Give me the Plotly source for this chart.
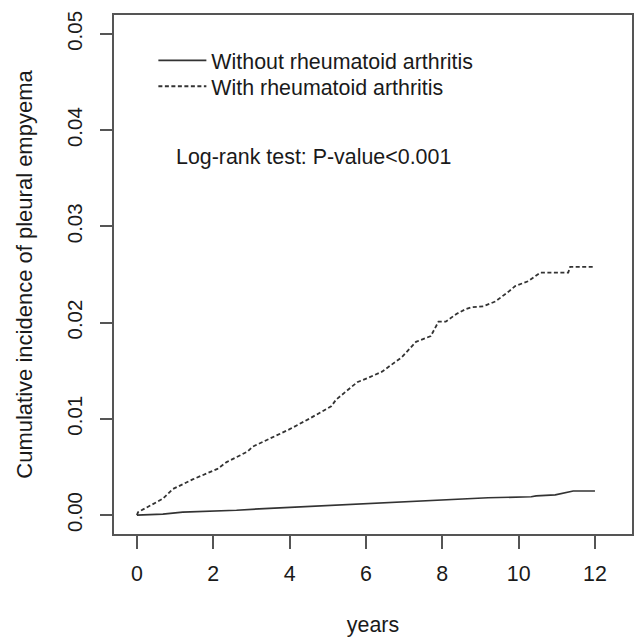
import plotly.graph_objects as go

# Curve vertices (years, cumulative incidence)
ra_years = [0, 0.03, 0.68, 0.94, 1.46, 2.11, 2.35, 2.90, 3.03, 3.29, 3.99, 4.51, 5.09, 5.22,
            5.77, 6.08, 6.42, 6.94, 7.31, 7.70, 7.90, 8.09, 8.37, 8.61, 8.77, 9.08, 9.39, 9.73,
            9.91, 10.25, 10.57, 11.30, 11.35, 12.0]
ra_inc = [0, 0.0003, 0.0017, 0.0027, 0.0037, 0.0048, 0.0055, 0.0066, 0.0071, 0.0076, 0.0089,
          0.0100, 0.0113, 0.0120, 0.0138, 0.0143, 0.0149, 0.0164, 0.0180, 0.0186, 0.0201,
          0.0201, 0.0209, 0.0214, 0.0216, 0.0217, 0.0222, 0.0232, 0.0238, 0.0243, 0.0252,
          0.0252, 0.0258, 0.0258]

non_years = [0, 0.68, 1.20, 2.04, 2.61, 3.47, 3.99, 4.51, 5.22, 6.0, 6.86, 7.38, 8.09, 8.40,
             9.20, 10.33, 10.46, 10.96, 11.17, 11.43, 12.0]
non_inc = [0, 0.0001, 0.0003, 0.0004, 0.0005, 0.0007, 0.0008, 0.0009, 0.0011, 0.0012, 0.0014,
           0.0015, 0.0016, 0.0017, 0.0018, 0.0019, 0.0020, 0.0021, 0.0023, 0.0025, 0.0025]

x_ticks = [0, 2, 4, 6, 8, 10, 12]
y_ticks = [0.00, 0.01, 0.02, 0.03, 0.04, 0.05]
y_ticklabels = ["0.00", "0.01", "0.02", "0.03", "0.04", "0.05"]

series_names = ["Without rheumatoid arthritis", "With rheumatoid arthritis"]
annotation_text = "Log-rank test: P-value<0.001"

FONT = "Liberation Sans, Arial, sans-serif"
TXT = "#1a1a1a"
AX = "#555555"
FS = 21.4

fig = go.Figure()
fig.add_trace(go.Scatter(x=non_years, y=non_inc, mode="lines", name=series_names[0],
                         legend="legend",
                         line=dict(color="#333333", width=1.7)))
fig.add_trace(go.Scatter(x=ra_years, y=ra_inc, mode="lines", name=series_names[1],
                         legend="legend2",
                         line=dict(color="#333333", width=1.8, dash="4px,2.5px")))

legend_common = dict(xanchor="left", yanchor="top", bgcolor="rgba(0,0,0,0)",
                     font=dict(size=FS, color=TXT), itemwidth=48)

fig.update_layout(
    width=635, height=637,
    margin=dict(l=114, r=1, t=15, b=102),
    paper_bgcolor="white", plot_bgcolor="white",
    font=dict(family=FONT, size=FS, color=TXT),
    showlegend=True,
    legend=dict(x=0.076, y=0.952, **legend_common),
    legend2=dict(x=0.076, y=0.902, **legend_common),
    xaxis=dict(range=[-0.6, 12.97], tickvals=x_ticks, ticks="outside", ticklen=13,
               tickwidth=1.5, tickcolor=AX, showline=True, linecolor=AX, linewidth=1.5,
               mirror=True, showgrid=False, zeroline=False,
               tickfont=dict(size=FS, color=TXT), ticklabelstandoff=7,
               title=dict(text="years", font=dict(size=FS, color=TXT), standoff=35)),
    yaxis=dict(range=[-0.00197, 0.05197], tickvals=y_ticks, ticktext=y_ticklabels,
               ticks="outside", ticklen=12, tickwidth=1.5, tickcolor=AX,
               showline=True, linecolor=AX, linewidth=1.5, mirror=True,
               showgrid=False, zeroline=False, tickangle=-90,
               tickfont=dict(size=20.5, color=TXT), ticklabelstandoff=10,
               title=dict(text="Cumulative incidence of pleural empyema",
                          font=dict(size=22, color=TXT), standoff=24)),
    annotations=[dict(text=annotation_text, xref="paper", yref="paper",
                      x=(174 - 114) / 520, y=(535 - 157) / 520, xanchor="left",
                      yanchor="middle", showarrow=False,
                      font=dict(size=FS, color=TXT))],
)

fig.write_html("out.html", config={"displayModeBar": False},
               post_script="document.body.style.margin='0';")
